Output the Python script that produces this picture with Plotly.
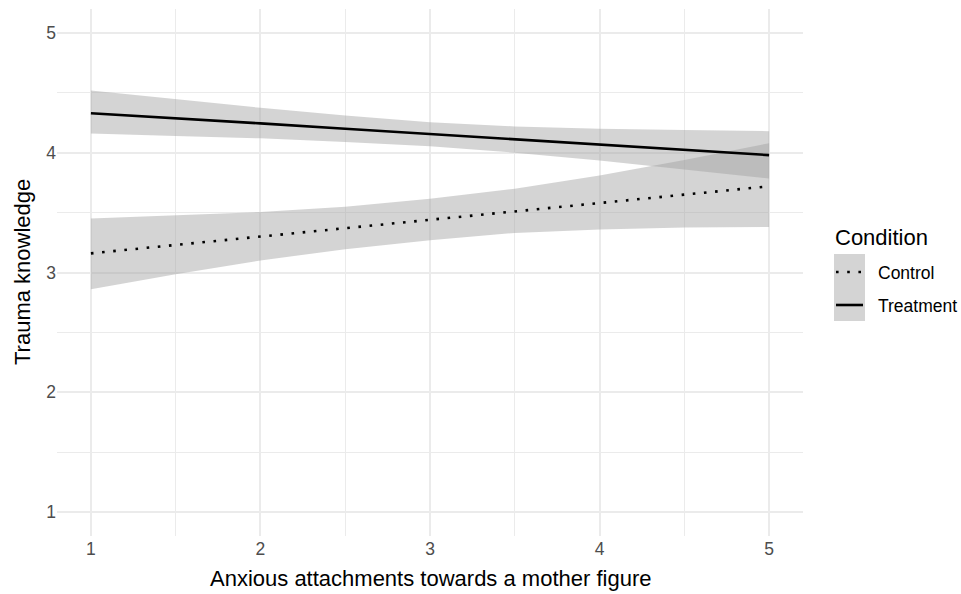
import plotly.graph_objects as go

# Predicted trauma knowledge by anxious attachment, with 95% confidence bands
anxious_attachment = [1, 1.5, 2, 2.5, 3, 3.5, 4, 4.5, 5]

treatment_fit = [4.33, 4.29, 4.245, 4.20, 4.155, 4.11, 4.065, 4.02, 3.98]
treatment_low = [4.16, 4.14, 4.12, 4.09, 4.055, 4.00, 3.935, 3.86, 3.785]
treatment_high = [4.52, 4.445, 4.375, 4.31, 4.255, 4.22, 4.20, 4.19, 4.18]

control_fit = [3.16, 3.23, 3.30, 3.375, 3.445, 3.515, 3.585, 3.65, 3.72]
control_low = [2.86, 2.985, 3.10, 3.195, 3.27, 3.33, 3.36, 3.375, 3.38]
control_high = [3.45, 3.475, 3.505, 3.55, 3.615, 3.70, 3.81, 3.94, 4.08]

tick_values = [1, 2, 3, 4, 5]
condition_labels = ["Control", "Treatment"]

FONT = "Liberation Sans, Arial, Helvetica, sans-serif"
BAND = "rgba(160,160,160,0.45)"
GRID = "#EBEBEB"

fig = go.Figure()


def band(x, lo, hi):
    return go.Scatter(
        x=list(x) + list(x)[::-1],
        y=list(hi) + list(lo)[::-1],
        fill="toself",
        fillcolor=BAND,
        line=dict(width=0),
        mode="lines",
        hoverinfo="skip",
        showlegend=False,
    )


fig.add_trace(band(anxious_attachment, control_low, control_high))
fig.add_trace(band(anxious_attachment, treatment_low, treatment_high))

fig.add_trace(go.Scatter(
    x=anxious_attachment, y=control_fit, mode="lines", name=condition_labels[0],
    line=dict(color="black", width=2.6, dash="2.6px,8.6px"), showlegend=False,
))
fig.add_trace(go.Scatter(
    x=anxious_attachment, y=treatment_fit, mode="lines", name=condition_labels[1],
    line=dict(color="black", width=2.6), showlegend=False,
))

# plot area in pixels: x 57..803, y 9..536
L, R, T, B = 57, 803, 9, 536
W, H = R - L, B - T


def px(x):
    return (x - L) / W


def py(y):
    return (B - y) / H


axis_common = dict(
    range=[0.8, 5.2],
    tickvals=tick_values,
    ticktext=[str(v) for v in tick_values],
    showgrid=True,
    gridcolor=GRID,
    gridwidth=1.5,
    minor=dict(dtick=0.5, tick0=0, showgrid=True, gridcolor=GRID, gridwidth=1),
    zeroline=False,
    showline=False,
    ticks="",
    tickfont=dict(family=FONT, size=17.5, color="#4D4D4D"),
    fixedrange=True,
)

fig.update_xaxes(**axis_common)
fig.update_yaxes(**axis_common)

# manual legend: grey key background, line samples and labels
shapes = [
    dict(type="rect", xref="paper", yref="paper",
         x0=px(834), x1=px(865), y0=py(321), y1=py(254),
         fillcolor="rgb(212,212,212)", line=dict(width=0), layer="above"),
    dict(type="line", xref="paper", yref="paper",
         x0=px(836), x1=px(865), y0=py(272), y1=py(272),
         line=dict(color="black", width=2.6, dash="2.6px,8.6px"), layer="above"),
    dict(type="line", xref="paper", yref="paper",
         x0=px(836), x1=px(863), y0=py(305), y1=py(305),
         line=dict(color="black", width=2.6), layer="above"),
]

annotations = [
    dict(text="Anxious attachments towards a mother figure", xref="paper", yref="paper",
         x=px(430), y=py(578), xanchor="center", yanchor="middle", showarrow=False,
         font=dict(family=FONT, size=22, color="black")),
    dict(text="Trauma knowledge", xref="paper", yref="paper",
         x=px(22), y=py(272), xanchor="center", yanchor="middle", showarrow=False,
         textangle=-90, font=dict(family=FONT, size=22, color="black")),
    dict(text="Condition", xref="paper", yref="paper",
         x=px(833), y=py(237), xanchor="left", yanchor="middle", showarrow=False,
         font=dict(family=FONT, size=22, color="black")),
    dict(text=condition_labels[0], xref="paper", yref="paper",
         x=px(876), y=py(273), xanchor="left", yanchor="middle", showarrow=False,
         font=dict(family=FONT, size=17.5, color="black")),
    dict(text=condition_labels[1], xref="paper", yref="paper",
         x=px(876), y=py(306), xanchor="left", yanchor="middle", showarrow=False,
         font=dict(family=FONT, size=17.5, color="black")),
]

fig.update_layout(
    width=961,
    height=594,
    margin=dict(l=L, r=961 - R, t=T, b=594 - B, autoexpand=False),
    paper_bgcolor="white",
    plot_bgcolor="white",
    showlegend=False,
    shapes=shapes,
    annotations=annotations,
    font=dict(family=FONT),
)

fig.write_html("out.html", config={"displayModeBar": False})
